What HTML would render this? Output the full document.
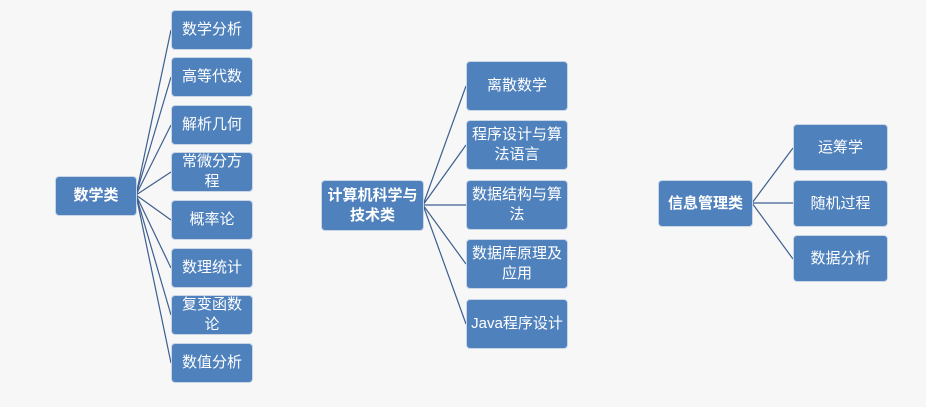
<!DOCTYPE html>
<html><head><meta charset="utf-8"><style>
body{margin:0;width:926px;height:407px;background:#f7f7f7;position:relative;overflow:hidden;font-family:"Liberation Sans","Noto Sans CJK SC",sans-serif}
.b{position:absolute;background:#4f81bd;border:1px solid #c8d6e8;border-radius:4px;color:#fff;display:flex;align-items:center;justify-content:center;text-align:center;font-size:15px;line-height:20px;box-sizing:border-box}
.r{font-weight:bold}
svg{position:absolute;left:0;top:0}
</style></head><body>
<svg width="926" height="407"><g stroke="#3d5f8f" stroke-width="1.2" fill="none">
<line x1="136" y1="195" x2="171" y2="30"/><line x1="136" y1="195" x2="171" y2="77"/><line x1="136" y1="195" x2="171" y2="125"/><line x1="136" y1="195" x2="171" y2="172"/><line x1="136" y1="195" x2="171" y2="220"/><line x1="136" y1="195" x2="171" y2="268"/><line x1="136" y1="195" x2="171" y2="315"/><line x1="136" y1="195" x2="171" y2="363"/>
<line x1="423" y1="205" x2="466" y2="86"/><line x1="423" y1="205" x2="466" y2="145"/><line x1="423" y1="205" x2="466" y2="205"/><line x1="423" y1="205" x2="466" y2="264"/><line x1="423" y1="205" x2="466" y2="324"/>
<line x1="752" y1="203" x2="793" y2="148"/><line x1="752" y1="203" x2="793" y2="203"/><line x1="752" y1="203" x2="793" y2="259"/>
</g></svg>
<div class="b r" style="left:55px;top:176px;width:82px;height:40px">数学类</div>
<div class="b" style="left:171px;top:10px;width:82px;height:40px">数学分析</div>
<div class="b" style="left:171px;top:57px;width:82px;height:40px">高等代数</div>
<div class="b" style="left:171px;top:105px;width:82px;height:40px">解析几何</div>
<div class="b" style="left:171px;top:152px;width:82px;height:40px">常微分方<br>程</div>
<div class="b" style="left:171px;top:200px;width:82px;height:40px">概率论</div>
<div class="b" style="left:171px;top:248px;width:82px;height:40px">数理统计</div>
<div class="b" style="left:171px;top:295px;width:82px;height:40px">复变函数<br>论</div>
<div class="b" style="left:171px;top:343px;width:82px;height:40px">数值分析</div>
<div class="b r" style="left:321px;top:180px;width:103px;height:51px">计算机科学与<br>技术类</div>
<div class="b" style="left:466px;top:61px;width:102px;height:50px">离散数学</div>
<div class="b" style="left:466px;top:120px;width:102px;height:50px">程序设计与算<br>法语言</div>
<div class="b" style="left:466px;top:180px;width:102px;height:50px">数据结构与算<br>法</div>
<div class="b" style="left:466px;top:239px;width:102px;height:50px">数据库原理及<br>应用</div>
<div class="b" style="left:466px;top:299px;width:102px;height:50px">Java程序设计</div>
<div class="b r" style="left:658px;top:180px;width:95px;height:47px">信息管理类</div>
<div class="b" style="left:793px;top:124px;width:95px;height:47px">运筹学</div>
<div class="b" style="left:793px;top:180px;width:95px;height:47px">随机过程</div>
<div class="b" style="left:793px;top:235px;width:95px;height:47px">数据分析</div>
</body></html>
